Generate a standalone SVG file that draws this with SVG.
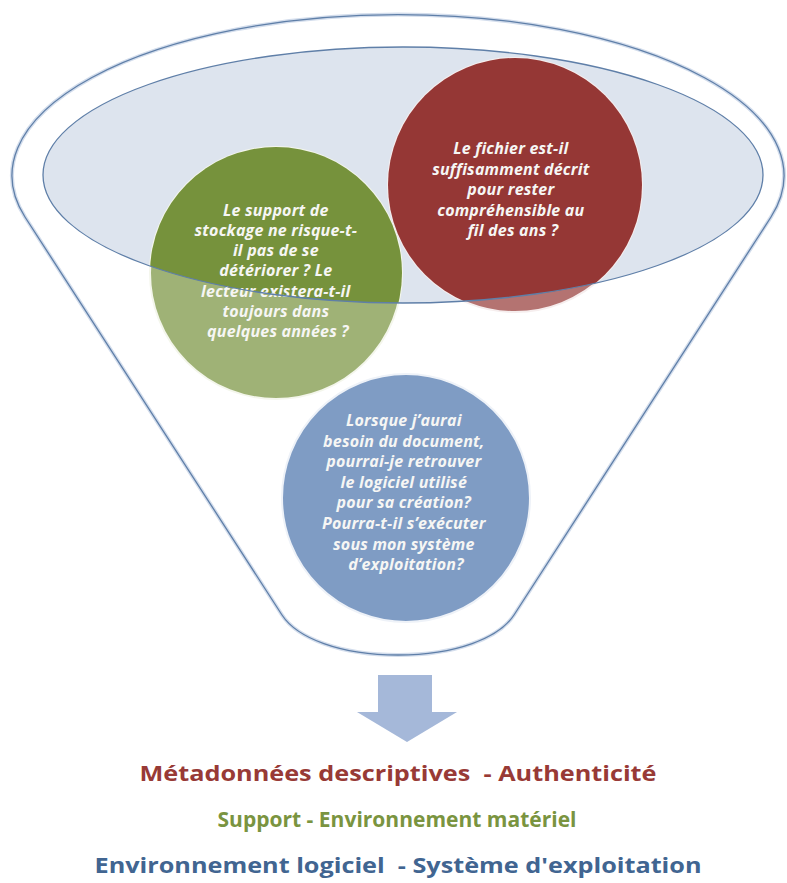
<svg xmlns="http://www.w3.org/2000/svg" width="787" height="883" viewBox="0 0 787 883">
  <defs>
    <style>
      .q { font-family: "Open Sans", "Liberation Sans", sans-serif; font-size: 16px; font-weight: 700; font-style: italic; fill: #f6f6f4; text-anchor: middle; letter-spacing: 0.2px; }
      .res { font-family: "Open Sans", "Liberation Sans", sans-serif; font-size: 22px; font-weight: 700; text-anchor: middle; }
      .rim { fill: none; stroke: #5f7fa8; stroke-width: 1.3; }
    </style>
    <clipPath id="inner">
      <ellipse cx="403" cy="175" rx="360" ry="128"/>
    </clipPath>
  </defs>
  <rect width="787" height="883" fill="#ffffff"/>

  <g id="funnel">
    <path id="funnel-body" d="M 25 217 L 282 615 C 297 638 340 655 398 655 C 456 655 499 638 514 615 L 771 217 A 386 161 0 1 0 25 217 Z" fill="#ffffff" stroke="#d3ddec" stroke-width="4"/>
    <ellipse cx="403" cy="175" rx="360" ry="128" fill="#dde4ee"/>
  </g>

  <g id="node-support">
    <circle cx="276" cy="273" r="126" fill="#9fb276" stroke="#f4f6ec" stroke-width="2"/>
    <circle cx="276" cy="273" r="126" fill="#76923c" clip-path="url(#inner)"/>
    <text class="q">
      <tspan x="278" y="216">Le support de</tspan>
      <tspan x="278" y="236">stockage ne risque-t-</tspan>
      <tspan x="278" y="256">il pas de se</tspan>
      <tspan x="278" y="276">détériorer ? Le</tspan>
      <tspan x="278" y="297">lecteur existera-t-il</tspan>
      <tspan x="278" y="317">toujours dans</tspan>
      <tspan x="278" y="337">quelques années ?</tspan>
    </text>
  </g>

  <g id="node-fichier">
    <circle cx="515" cy="185" r="127" fill="#b47371" stroke="#f6eeee" stroke-width="2"/>
    <circle cx="515" cy="185" r="127" fill="#953735" clip-path="url(#inner)"/>
    <text class="q">
      <tspan x="513" y="154">Le fichier est-il</tspan>
      <tspan x="513" y="174.5">suffisamment décrit</tspan>
      <tspan x="513" y="195">pour rester</tspan>
      <tspan x="513" y="215.5">compréhensible au</tspan>
      <tspan x="513" y="236">fil des ans ?</tspan>
    </text>
  </g>

  <g id="node-logiciel">
    <circle cx="406" cy="498" r="124" fill="#7f9cc4" stroke="#eef2f8" stroke-width="2"/>
    <text class="q">
      <tspan x="406" y="426">Lorsque j’aurai</tspan>
      <tspan x="406" y="446.6">besoin du document,</tspan>
      <tspan x="406" y="467.2">pourrai-je retrouver</tspan>
      <tspan x="406" y="487.8">le logiciel utilisé</tspan>
      <tspan x="406" y="508.4">pour sa création?</tspan>
      <tspan x="406" y="529">Pourra-t-il s’exécuter</tspan>
      <tspan x="406" y="549.6">sous mon système</tspan>
      <tspan x="406" y="570.2">d’exploitation?</tspan>
    </text>
  </g>

  <g id="connectors">
    <ellipse class="rim" cx="403" cy="175" rx="360" ry="128" stroke="#5578a8" stroke-width="1.6"/>
    <path class="rim" d="M 25 217 L 282 615 C 297 638 340 655 398 655 C 456 655 499 638 514 615 L 771 217 A 386 161 0 1 0 25 217 Z"/>
    <path id="arrow" d="M 378 675 L 432 675 L 432 712 L 457 712 L 407 742 L 357 712 L 378 712 Z" fill="#a5b8d9"/>
  </g>

  <g id="results">
    <text class="res" x="398" y="781" fill="#983a36" textLength="517" lengthAdjust="spacingAndGlyphs" xml:space="preserve">Métadonnées descriptives  - Authenticité</text>
    <text class="res" x="397" y="827" fill="#7a9440" textLength="359" lengthAdjust="spacingAndGlyphs">Support - Environnement matériel</text>
    <text class="res" x="398" y="873" fill="#416591" textLength="607" lengthAdjust="spacingAndGlyphs" xml:space="preserve">Environnement logiciel  - Système d'exploitation</text>
  </g>
</svg>
